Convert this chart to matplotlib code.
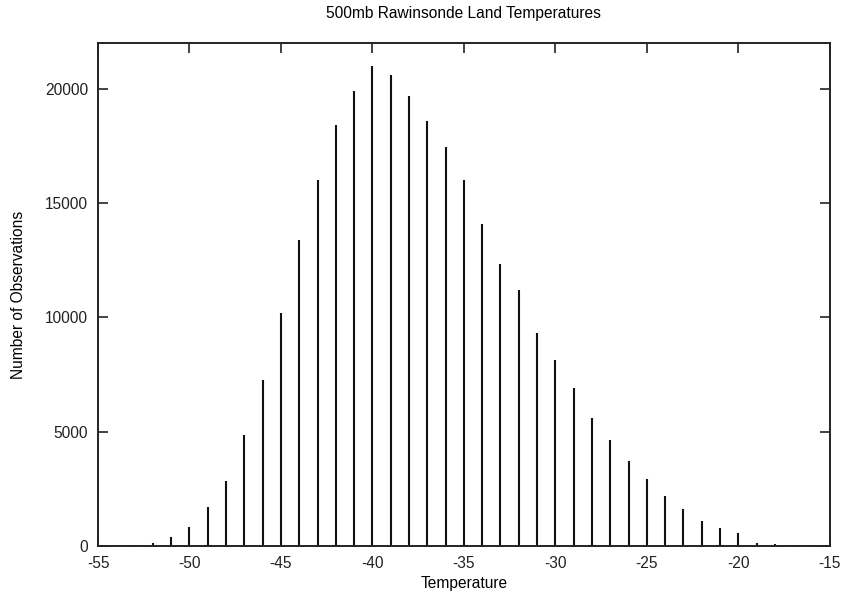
import matplotlib
matplotlib.use("Agg")
import matplotlib.pyplot as plt

temperatures = list(range(-53, -15))
counts = [60, 150, 400, 850, 1700, 2850, 4850, 7250, 10200, 13400,
          16000, 18400, 19900, 21000, 20600, 19700, 18600, 17450, 16000, 14100,
          12350, 11200, 9300, 8150, 6900, 5600, 4650, 3700, 2950, 2200,
          1600, 1100, 780, 560, 130, 80, 60, 50]
xticks = [-55, -50, -45, -40, -35, -30, -25, -20, -15]
yticks = [0, 5000, 10000, 15000, 20000]

plt.rcParams['font.family'] = ['Liberation Sans', 'DejaVu Sans']
fig = plt.figure(figsize=(8.45, 5.95), dpi=100)
ax = fig.add_axes([0.116, 0.0824, 0.866, 0.8453])
ax.vlines(temperatures, 0, counts, colors='#111111', linewidth=1.5)
ax.set_xlim(-55, -15)
ax.set_ylim(0, 22000)
ax.set_xticks(xticks)
ax.set_xticklabels([str(t) for t in xticks])
ax.set_yticks(yticks)
ax.set_yticklabels([str(t) for t in yticks])
ax.tick_params(direction='in', top=True, right=True, length=7, width=1.2,
               labelsize=11.2, colors='#222222')
ax.tick_params(axis='x', pad=7)
ax.tick_params(axis='y', pad=7)
for s in ax.spines.values():
    s.set_linewidth(1.4)
    s.set_color('#222222')
ax.set_xlabel('Temperature', fontsize=11.2, labelpad=4)
ax.set_ylabel('Number of Observations', fontsize=11.2, labelpad=14)
ax.set_title('500mb Rawinsonde Land Temperatures', fontsize=11.2, pad=18)
fig.savefig('out.png', dpi=100)
